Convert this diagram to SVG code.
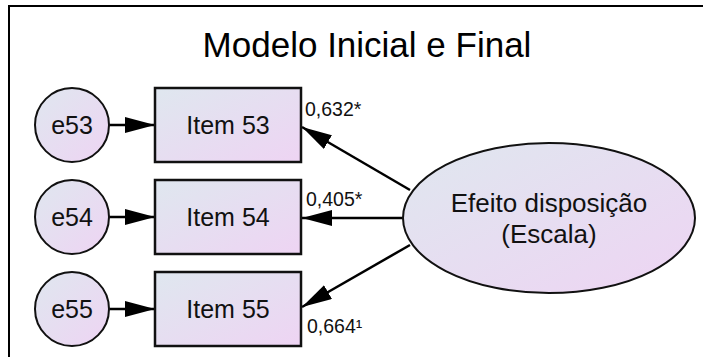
<svg xmlns="http://www.w3.org/2000/svg" width="703" height="357" viewBox="0 0 703 357">
  <defs>
    <linearGradient id="fillGrad" x1="0" y1="0" x2="1" y2="1">
      <stop offset="0" stop-color="#dfe7ef"/>
      <stop offset="1" stop-color="#eed4f3"/>
    </linearGradient>
    <marker id="arrow" viewBox="0 0 30 16" refX="30" refY="8" markerWidth="30" markerHeight="16" markerUnits="userSpaceOnUse" orient="auto">
      <path d="M0,0 L30,8 L0,16 Z" fill="#000"/>
    </marker>
    <style>
      .frame { stroke: #000; stroke-width: 2; fill: none; }
      .box { fill: url(#fillGrad); stroke: #111; stroke-width: 2.5; }
      .err { fill: url(#fillGrad); stroke: #111; stroke-width: 2; }
      .lat { fill: url(#fillGrad); stroke: #111; stroke-width: 2; }
      .lbl { font-family: "Liberation Sans", Arial, sans-serif; font-size: 25px; fill: #111; text-anchor: middle; }
      .big { font-size: 26px; }
      .coef { font-family: "Liberation Sans", Arial, sans-serif; font-size: 19.5px; fill: #111; }
      .title { font-family: "Liberation Sans", Arial, sans-serif; font-size: 35px; fill: #000; text-anchor: middle; }
      .conn line { stroke: #000; stroke-width: 2.5; marker-end: url(#arrow); }
    </style>
  </defs>

  <rect width="703" height="357" fill="#fff"/>

  <!-- outer frame (top and left edges) -->
  <path class="frame" d="M9,357 L9,6 L703,6"/>

  <text class="title" x="367" y="57">Modelo Inicial e Final</text>

  <!-- connectors -->
  <g id="connectors" class="conn">
    <line x1="109" y1="125" x2="155" y2="125"/>
    <line x1="109" y1="217" x2="155" y2="217"/>
    <line x1="109" y1="309" x2="155" y2="309"/>
    <line x1="410" y1="190" x2="302" y2="127"/>
    <line x1="403" y1="218" x2="302" y2="218"/>
    <line x1="410" y1="245" x2="302" y2="307"/>
  </g>

  <!-- error terms -->
  <g id="e53">
    <circle class="err" cx="72" cy="125" r="37"/>
    <text class="lbl" x="72" y="134">e53</text>
  </g>
  <g id="e54">
    <circle class="err" cx="72" cy="217" r="37"/>
    <text class="lbl" x="72" y="226">e54</text>
  </g>
  <g id="e55">
    <circle class="err" cx="72" cy="309" r="37"/>
    <text class="lbl" x="72" y="318">e55</text>
  </g>

  <!-- observed items -->
  <g id="item53">
    <rect class="box" x="155" y="88" width="146" height="74"/>
    <text class="lbl" x="228" y="134">Item 53</text>
  </g>
  <g id="item54">
    <rect class="box" x="155" y="180" width="146" height="74"/>
    <text class="lbl" x="228" y="226">Item 54</text>
  </g>
  <g id="item55">
    <rect class="box" x="155" y="272" width="146" height="74"/>
    <text class="lbl" x="228" y="318">Item 55</text>
  </g>

  <!-- latent factor -->
  <g id="efeito">
    <ellipse class="lat" cx="549" cy="218" rx="146" ry="75"/>
    <text class="lbl big" x="549" y="212">Efeito disposição</text>
    <text class="lbl big" x="549" y="243">(Escala)</text>
  </g>

  <!-- loadings -->
  <g id="loadings">
    <text class="coef" x="305" y="116">0,632*</text>
    <text class="coef" x="306" y="206">0,405*</text>
    <text class="coef" x="307" y="333">0,664¹</text>
  </g>
</svg>
